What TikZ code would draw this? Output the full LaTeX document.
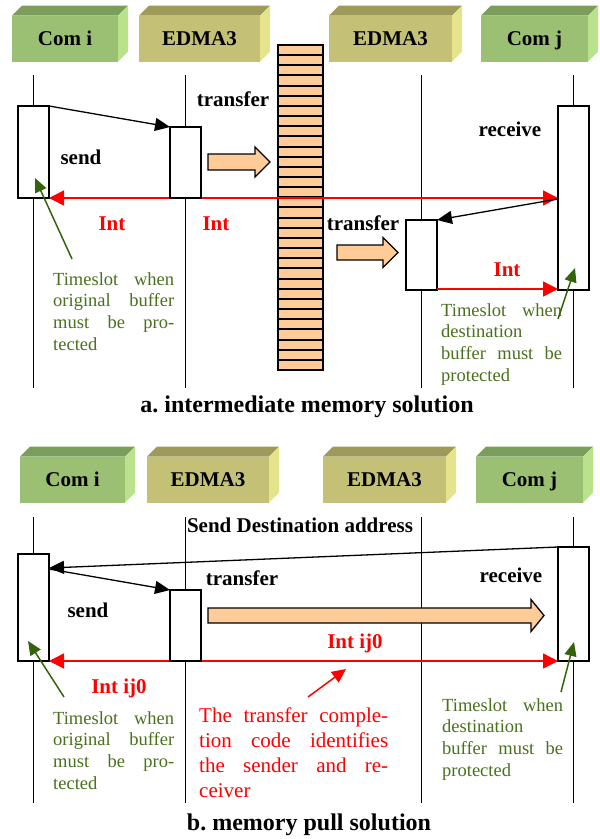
\documentclass[tikz,border=0pt]{standalone}
\usepackage{fontspec}
\setmainfont{Liberation Serif}
\usetikzlibrary{arrows.meta,calc}
\frenchspacing
\hbadness=10000
\definecolor{comfront}{RGB}{155,192,116}
\definecolor{comtop}{RGB}{124,158,92}
\definecolor{comside}{RGB}{186,226,140}
\definecolor{edmfront}{RGB}{196,193,118}
\definecolor{edmtop}{RGB}{158,154,90}
\definecolor{edmside}{RGB}{228,228,140}
\definecolor{orangefill}{RGB}{255,204,153}
\definecolor{notegreen}{RGB}{74,112,30}
\definecolor{arrgreen}{RGB}{52,100,10}
\newcommand\lblfont{\bfseries\fontsize{21}{25}\selectfont}
\newcommand\capfont{\bfseries\fontsize{24}{28}\selectfont}
\newcommand\notefont{\fontsize{18.5}{21.7}\selectfont}
\newcommand\hdrbox[6]{%
  \node[hdrfront, fill=#5front, minimum width=#4, anchor=north west] (#1) at (#2,#3) {#6};
  \fill[#5top] (#1.north west) -- ($(#1.north west)+(10,-10)$) -- ($(#1.north east)+(10,-10)$) -- (#1.north east) -- cycle;
  \fill[#5side] (#1.north east) -- ($(#1.north east)+(10,-10)$) -- ($(#1.south east)+(10,-10)$) -- (#1.south east) -- cycle;
}
\newcommand\blockarrow[6]{%
  \draw[barrow] (#1,{#3-#4}) -- (#2,{#3-#4}) -- (#2,{#3-#5}) -- (#6,#3) -- (#2,{#3+#5}) -- (#2,{#3+#4}) -- (#1,{#3+#4}) -- cycle;
}
\tikzset{
  hdrfront/.style={draw=none, inner sep=0, outer sep=0, minimum height=46, font=\lblfont, text height=15, text depth=2},
  life/.style={line width=1.3pt, black},
  actbox/.style={draw=black, fill=white, line width=1.3pt, inner sep=0, outer sep=0, minimum width=31, anchor=north west},
  lbl/.style={font=\lblfont, inner sep=0, anchor=base},
  intlbl/.style={lbl, text=red},
  msg/.style={line width=1.3pt, -{Triangle[length=15pt,width=13pt]}},
  intarr/.style={red, line width=1.5pt, {Triangle[length=15pt,width=15pt]}-{Triangle[length=15pt,width=15pt]}},
  intone/.style={red, line width=1.5pt, -{Triangle[length=15pt,width=15pt]}},
  greenptr/.style={arrgreen, line width=1.5pt, -{Triangle[length=14pt,width=12pt]}},
  redptr/.style={red, line width=1.5pt, -{Triangle[length=14pt,width=13pt]}},
  barrow/.style={draw=black, line width=1.3pt, fill=orangefill, line join=miter},
  slot/.style={draw=black, line width=2pt, fill=orangefill},
  note/.style={inner sep=0, anchor=base west, font=\notefont, text=notegreen},
  rednote/.style={inner sep=0, anchor=base west, font=\fontsize{21}{25}\selectfont, text=red},
}
\begin{document}
\begin{tikzpicture}[x=1pt,y=-1pt]
\useasboundingbox (0,0) rectangle (600,839);
% ================= part a =================
\hdrbox{hai}{12}{15.5}{106}{com}{Com i}
\hdrbox{hae}{139}{15.5}{121}{edm}{EDMA3}
\hdrbox{hbe}{329}{15.5}{123}{edm}{EDMA3}
\hdrbox{haj}{481}{15.5}{107}{com}{Com j}
% lifelines
\coordinate (la1t) at (33.5,75);  \coordinate (la1b) at (33.5,388);
\coordinate (la2t) at (185.5,75); \coordinate (la2b) at (185.5,388);
\coordinate (la3t) at (421.5,75); \coordinate (la3b) at (421.5,388);
\coordinate (la4t) at (573.5,75); \coordinate (la4b) at (573.5,388);
\foreach \i in {1,2,3,4} \draw[life] (la\i t) -- (la\i b);
% memory stack
\foreach \k in {0,...,31}
  \draw[slot] (278,{45+round(\k*10.156)}) rectangle (323,{45+round((\k+1)*10.156)});
% activation boxes
\node[actbox, minimum height=92] (ai) at (18,106) {};
\node[actbox, minimum height=71] (ae) at (170,127) {};
\node[actbox, minimum height=70] (be) at (406,220) {};
\node[actbox, minimum height=184] (aj) at (558,106) {};
% messages
\draw[msg] (ai.north east) -- (ae.north west);
\draw[intarr] (ai.south east) -- (ai.south east -| aj.west);
\draw[actbox, fill=white, line width=1.3pt] (ae.south west) rectangle (ae.north east);
\draw[msg] ($(ai.south east -| aj.west)+(0,1)$) -- (be.north east);
\draw[intone] ($(be.south east)+(0,-1)$) -- ($(be.south east -| aj.west)+(0,-1)$);
% block arrows
\blockarrow{208}{255}{162}{8}{15}{270}
\blockarrow{337}{383}{252.5}{7.5}{15}{398}
% labels
\node[lbl] (ta1) at (233,106) {transfer};
\node[lbl] (sa) at (81,164) {send};
\node[lbl] (ra) at (510,136) {receive};
\node[intlbl] (ia1) at (112,230) {Int};
\node[intlbl] (ia2) at (216,230) {Int};
\node[lbl] (ta2) at (363,230) {transfer};
\node[intlbl] (ia3) at (507,276) {Int};
% notes
\node[note] (na1) at (53,285) {\parbox[t]{121pt}{Timeslot when\linebreak original buffer\linebreak must be pro-\linebreak tected}};
\node[note] (na2) at (441,316) {\parbox[t]{121pt}{Timeslot when\linebreak destination\newline buffer must be\linebreak protected}};
\coordinate (ga1s) at (72,259); \coordinate (ga1e) at (35,178);
\coordinate (ga2s) at (558,319); \coordinate (ga2e) at (575,268);
\draw[greenptr] (ga1s) -- (ga1e);
\draw[greenptr] (ga2s) -- (ga2e);
\node[font=\capfont, inner sep=0, anchor=base] (capa) at (307,412) {a. intermediate memory solution};
% ================= part b =================
\hdrbox{hbi}{20}{456.5}{105}{com}{Com i}
\hdrbox{hbe1}{147}{456.5}{122}{edm}{EDMA3}
\hdrbox{hbe2}{323}{456.5}{123}{edm}{EDMA3}
\hdrbox{hbj}{476}{456.5}{107}{com}{Com j}
\coordinate (lb1t) at (33.5,517);  \coordinate (lb1b) at (33.5,803);
\coordinate (lb2t) at (185.5,517); \coordinate (lb2b) at (185.5,803);
\coordinate (lb3t) at (421.5,517); \coordinate (lb3b) at (421.5,803);
\coordinate (lb4t) at (573.5,517); \coordinate (lb4b) at (573.5,803);
\foreach \i in {1,2,3,4} \draw[life] (lb\i t) -- (lb\i b);
\node[actbox, minimum height=107] (bi) at (18,554) {};
\node[actbox, minimum height=71] (bei) at (170,590) {};
\node[actbox, minimum height=114] (bj) at (558,547) {};
\node[lbl] (sda) at (300,532) {Send Destination address};
\draw[msg] (bj.north west) -- ($(bi.north east)+(0,14)$);
\draw[msg] ($(bi.north east)+(0,15)$) -- (bei.north west);
\draw[intarr] (bi.south east) -- (bi.south east -| bj.west);
\draw[actbox, fill=white, line width=1.3pt] (bei.south west) rectangle (bei.north east);
\blockarrow{208}{531}{615.5}{7.5}{16}{544}
\node[lbl] (tb) at (242,585) {transfer};
\node[lbl] (rb) at (511,582) {receive};
\node[lbl] (sb) at (88,617) {send};
\node[intlbl] (ib1) at (355,648) {Int ij0};
\node[intlbl] (ib2) at (119,693) {Int ij0};
\node[note] (nb1) at (53,724) {\parbox[t]{121pt}{Timeslot when\linebreak original buffer\linebreak must be pro-\linebreak tected}};
\node[note] (nb2) at (442,711) {\parbox[t]{121pt}{Timeslot when\linebreak destination\newline buffer must be\linebreak protected}};
\node[rednote] (rtxt) at (199,722) {\parbox[t]{189pt}{The transfer comple-\linebreak tion code identifies\linebreak the sender and re-\linebreak ceiver}};
\coordinate (rps) at (308,697); \coordinate (rpe) at (346,669);
\draw[redptr] (rps) -- (rpe);
\coordinate (gb1s) at (64,697); \coordinate (gb1e) at (28,641);
\coordinate (gb2s) at (561,692); \coordinate (gb2e) at (574,642);
\draw[greenptr] (gb1s) -- (gb1e);
\draw[greenptr] (gb2s) -- (gb2e);
\node[font=\capfont, inner sep=0, anchor=base] (capb) at (309,830) {b. memory pull solution};
\end{tikzpicture}
\end{document}
